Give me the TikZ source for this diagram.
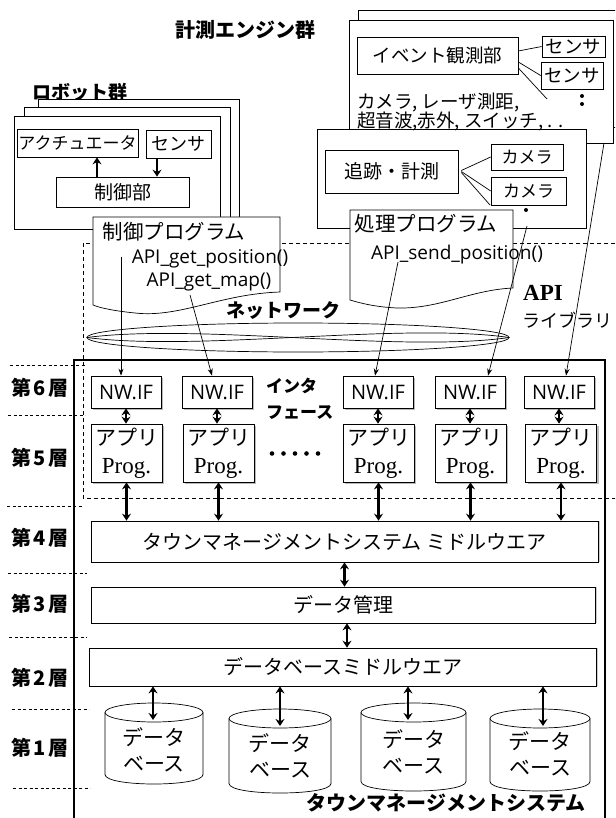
\documentclass[tikz,border=0pt]{standalone}
\usepackage{fontspec}
\setmainfont{Liberation Serif}
\newfontfamily\jp{Noto Sans CJK JP}
\newfontfamily\lat{Open Sans}
\newcommand\fsz[1]{\fontsize{#1}{#1}\selectfont}
\usetikzlibrary{arrows.meta,shadows,shapes.geometric}
\begin{document}
\begin{tikzpicture}[x=1pt,y=-1pt,
  frame/.style={draw,fill=white,line width=0.7pt},
  box/.style={draw,fill=white,line width=0.7pt,inner sep=0pt,font=\jp\fsz{18}},
  sbox/.style={box,drop shadow={shadow xshift=2pt,shadow yshift=-2pt,fill=gray!55,opacity=1}},
  mbox/.style={box,font=\jp\fsz{20},drop shadow={shadow xshift=2pt,shadow yshift=0pt,fill=gray!40,opacity=1}},
  lbl/.style={inner sep=0pt},
  layer/.style={inner sep=0pt,font=\jp\bfseries\fsz{20}},
  sep/.style={line width=0.7pt,dash pattern=on 3pt off 2.5pt},
  dbl/.style={{Stealth[length=7pt,width=9pt]}-{Stealth[length=7pt,width=9pt]},line width=2.2pt},
  one/.style={-{Stealth[length=7pt,width=9pt]},line width=2.2pt},
  api/.style={-{Stealth[length=7pt,width=5pt]},line width=0.7pt}
]
\useasboundingbox (0,0) rectangle (615,818);
\clip (0,0) rectangle (615,818);
\fill[white] (0,0) rectangle (615,818);

% API library area
\draw[line width=0.8pt,dash pattern=on 4pt off 3pt] (83,243) rectangle (640,498);

% Robot group
\node[lbl,font=\jp\bfseries\fsz{19}] (robots) at (80,92) {ロボット群};
\draw[frame] (38,99) rectangle (239,225);
\draw[frame] (24,107) rectangle (230,227);
\draw[frame] (14,116) rectangle (220,229);
\node[box,font=\jp\fsz{17},minimum width=121pt,minimum height=28pt] (act) at (77.5,143) {アクチュエータ};
\node[box,font=\jp\fsz{18},minimum width=65pt,minimum height=28pt] (rsen) at (178.5,144) {センサ};
\node[box,font=\jp\fsz{19},minimum width=133pt,minimum height=30pt] (ctl) at (122.5,192) {制御部};
\draw[one] (97,0 |- ctl.north) -- (97,0 |- act.south);
\draw[one] (157,0 |- rsen.south) -- (157,0 |- ctl.north);

% Engine group
\node[lbl,font=\jp\bfseries\fsz{20}] (engines) at (245,30) {計測エンジン群};
\draw[frame] (358,10) rectangle (640,127);
\draw[frame] (349,20) rectangle (613,143);
\node[box,font=\jp\fsz{18.5},minimum width=161pt,minimum height=37pt] (ev) at (437.5,55.5) {イベント観測部};
\node[box,font=\jp\fsz{18.5},minimum width=63pt,minimum height=21pt] (es1) at (573.5,46.5) {センサ};
\node[box,font=\jp\fsz{18.5},minimum width=62pt,minimum height=27pt] (es2) at (572,75.5) {センサ};
\coordinate (evdots) at (547,99);
\draw[line width=0.7pt] ([yshift=4.5pt]ev.east) -- (es1.west);
\draw[line width=0.7pt] ([yshift=-6.5pt]ev.east) -- (es2.west);
\draw[line width=0.7pt] ([yshift=-12.5pt]ev.east) -- (evdots);
\fill (582,96) circle[radius=2];
\fill (582,104) circle[radius=2];
\node[lbl,anchor=west,font=\jp\fsz{18.5}] (sens1) at (357,102) {カメラ, レーザ測距,};

% Tracking group
\draw[frame] (317,129) rectangle (586,228);
\node[lbl,anchor=west,font=\jp\fsz{18.5}] (sens2) at (357,121) {超音波,赤外, スイッチ, . .};
\node[box,font=\jp\fsz{19},minimum width=133pt,minimum height=43pt] (trk) at (391.5,171.5) {追跡・計測};
\node[box,font=\jp\fsz{17},minimum width=72pt,minimum height=26pt] (cam1) at (527,157) {カメラ};
\node[box,font=\jp\fsz{17},minimum width=75pt,minimum height=28pt] (cam2) at (528.5,191) {カメラ};
\coordinate (trkdots) at (490,205);
\draw[line width=0.7pt] ([xshift=3pt,yshift=1pt]trk.east) -- (cam1.west);
\draw[line width=0.7pt] ([xshift=3pt]trk.east) -- (cam2.west);
\draw[line width=0.7pt] ([xshift=3pt,yshift=-1pt]trk.east) -- (trkdots);
\fill (526,210) circle[radius=2];

% Program boxes
\draw[frame] (93,217) -- (280,217) -- (280,292) .. controls (220,294) and (180,318) .. (135,313) .. controls (115,311) and (100,308) .. (93,305) -- cycle;
\node[lbl,font=\jp\fsz{20.5}] (cprog) at (174,232) {制御プログラム};
\node[lbl,font=\lat\fsz{19}] (getpos) at (210,259) {API\_get\_position()};
\node[lbl,font=\lat\fsz{19}] (getmap) at (209,282) {API\_get\_map()};

\draw[frame] (350,210) -- (513,210) -- (513,288) .. controls (470,290) and (440,309) .. (397,308) .. controls (375,307) and (360,303) .. (350,300) -- cycle;
\node[lbl,font=\jp\fsz{20.5}] (pprog) at (426,224) {処理プログラム};
\node[lbl,font=\lat\fsz{19}] (sendpos) at (457,255) {API\_send\_position()};

% Network
\node[draw,ellipse,minimum width=422pt,minimum height=29pt,inner sep=0pt,line width=0.7pt] (net) at (298,337.5) {};
\draw[line width=0.7pt] (net.west) .. controls (200,352) and (400,322) .. (net.east);
\draw[line width=0.7pt] (net.west) .. controls (200,323) and (400,353) .. (net.east);
\node[lbl,font=\jp\bfseries\fsz{19}] (netl) at (283.5,311) {ネットワーク};

% API library label
\node[lbl,anchor=west,font=\bfseries\fsz{23}] (apil) at (523,293) {API};
\node[lbl,anchor=west,font=\jp\fsz{18}] (libl) at (522,320) {ライブラリ};

% Town management system frame
\draw[line width=1.8pt] (74,830) -- (74,360) -- (605,360) -- (605,830);
\node[lbl,font=\jp\bfseries\fsz{20}] (tmsl) at (446,803) {タウンマネージメントシステム};

% Layer separators and labels
\draw[sep] (10,365) -- (85,365);
\draw[sep] (8,415) -- (85,415);
\draw[sep] (7,506) -- (83,506);
\draw[sep] (8,573) -- (87,573);
\draw[sep] (9,637) -- (87,637);
\draw[sep] (12,709) -- (89,709);
\draw[sep] (13,788) -- (90,788);
\node[layer] (l6) at (40,388) {第\hspace{2pt}6\hspace{2pt}層};
\node[layer] (l5) at (40,458) {第\hspace{2pt}5\hspace{2pt}層};
\node[layer] (l4) at (40,538) {第\hspace{2pt}4\hspace{2pt}層};
\node[layer] (l3) at (40,604) {第\hspace{2pt}3\hspace{2pt}層};
\node[layer] (l2) at (40,678) {第\hspace{2pt}2\hspace{2pt}層};
\node[layer] (l1) at (40,748) {第\hspace{2pt}1\hspace{2pt}層};

% Middleware layers
\node[mbox,minimum width=507pt,minimum height=41pt] (tmsmw) at (344.5,541.5) {タウンマネージメントシステム ミドルウエア};
\node[mbox,minimum width=504pt,minimum height=36pt] (dm) at (343,605) {データ管理};
\node[mbox,minimum width=507pt,minimum height=38pt] (dbmw) at (342.5,667) {データベースミドルウエア};
\draw[dbl] (tmsmw.south) -- (tmsmw.south |- dm.north);
\draw[dbl] (347,0 |- dm.south) -- (347,0 |- dbmw.north);

% Interfaces and applications
\node[lbl,anchor=west,align=left,font=\jp\bfseries\fontsize{17}{26}\selectfont] (ifl) at (266,399) {インタ\\フェース};
\foreach \i/\x/\ax in {1/126/126.5, 2/217/218.5, 3/378/378.5, 4/470/470.5, 5/559/561} {
  \node[sbox,font=\lat\fsz{20},minimum width=70pt,minimum height=32pt] (nw\i) at (\x,392) {NW.IF};
  \node[sbox,minimum width=71pt,minimum height=58pt,align=center,font=\fontsize{21}{28}\selectfont] (app\i) at (\ax,453) {{\jp アプリ}\\{\fontsize{23}{28}\selectfont Prog.}};
  \draw[dbl] (nw\i.south) -- (nw\i.south |- app\i.north);
  \draw[dbl] (app\i.south) -- (app\i.south |- tmsmw.north);
}
\foreach \x in {272,283.5,295,306.5,318} \fill (\x,453.5) circle[radius=2.3];

% API calls
\coordinate (g1) at (121,256.5);
\draw[api] (g1) -- (g1 |- nw1.north);
\coordinate (g2) at (190,295);
\draw[api] (g2) -- ([xshift=-5pt]nw2.north);
\coordinate (g3) at (398,262);
\draw[api] (g3) -- ([xshift=-3pt]nw3.north);
\coordinate (g4) at (527,226);
\draw[api] (g4) -- ([xshift=18pt]nw4.north);
\coordinate (g5) at (604,143);
\draw[api] (g5) -- ([xshift=7pt]nw5.north);

% Databases
\foreach \i/\cx/\rx/\tp/\bt/\ax/\ty in {1/154/49/703/784/153/750, 2/280/51/709/793/280/756, 3/413.5/52.5/703/791/408/752, 4/540/50/709/791/543/754} {
  \draw[fill=white,line width=0.7pt] (\cx-\rx,\tp+9.5) -- (\cx-\rx,\bt-9.5) .. controls (\cx-\rx,\bt+3.17) and (\cx+\rx,\bt+3.17) .. (\cx+\rx,\bt-9.5) -- (\cx+\rx,\tp+9.5);
  \draw[fill=white,line width=0.7pt] (\cx,\tp+9.5) ellipse[x radius=\rx,y radius=9.5];
  \node[lbl,align=center,font=\jp\fontsize{21}{26}\selectfont] (db\i) at (\cx,\ty) {データ\\ベース};
  \coordinate (dbt\i) at (\ax,\tp+17);
  \draw[dbl] (\ax,0 |- dbmw.south) -- (dbt\i);
}
\end{tikzpicture}
\end{document}
